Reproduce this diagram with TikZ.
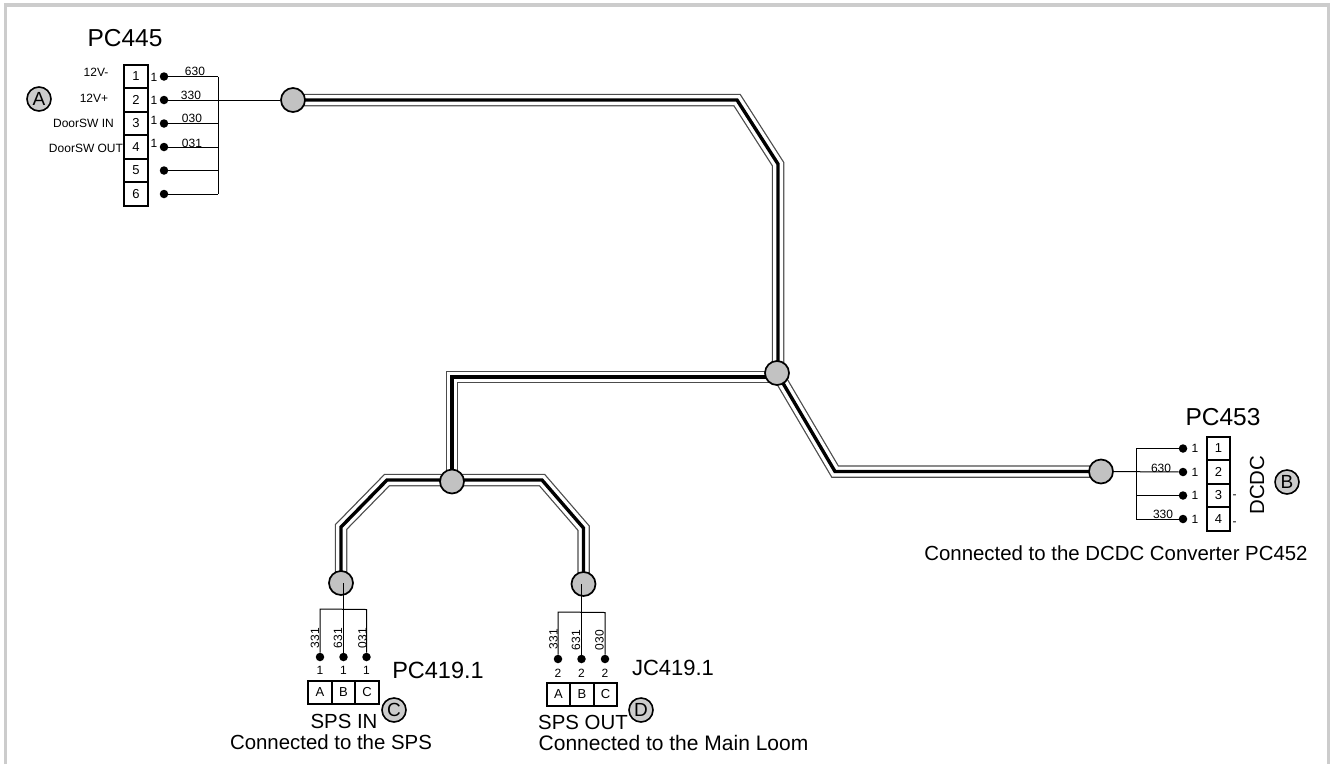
\documentclass[tikz,border=0pt]{standalone}
\usepackage{fontspec}
\setmainfont{Liberation Sans}
\newcommand{\fsz}[1]{\fontsize{#1}{#1}\selectfont}
\newcommand{\cablerun}[1]{%
  \draw[line width=12.5pt,draw=black!70,line join=miter] #1;
  \draw[line width=10pt,draw=white,line join=miter] #1;
  \draw[line width=3.4pt,draw=black,line join=miter] #1;}
\tikzset{
  x=1pt,y=-1pt,
  frameline/.style={draw=black!20,line width=3.2pt},
  junction/.style={circle,draw=black,fill=black!24,line width=1.7pt,minimum size=24pt,inner sep=0pt},
  tagmark/.style={circle,draw=black,fill=black!20,line width=1.6pt,minimum size=24pt,inner sep=0pt,font=\fsz{19}},
  pin/.style={circle,fill=black,minimum size=8.5pt,inner sep=0pt},
  cell/.style={rectangle,draw=black,line width=1.8pt,minimum width=23.5pt,minimum height=23.5pt,inner sep=0pt,font=\fsz{13}},
  wire/.style={draw=black,line width=1pt},
  title/.style={inner sep=0pt,font=\fsz{24.5}},
  caption/.style={inner sep=0pt,font=\fsz{20.4}},
  small/.style={inner sep=0pt,font=\fsz{12}},
  tiny/.style={inner sep=0pt,font=\fsz{12}},
}
\begin{document}
\begin{tikzpicture}
\useasboundingbox (0,0) rectangle (1335,764);
\draw[frameline] (5.5,764) -- (5.5,5) -- (1328.5,5) -- (1328.5,764);

% harness
\coordinate (ka) at (737,100);
\coordinate (kb) at (778,164);
\coordinate (kc) at (452,377);
\coordinate (kd) at (835,471.5);
\coordinate (ke) at (387,480);
\coordinate (kf) at (341,527);
\coordinate (kg) at (542,480);
\coordinate (kh) at (583.5,528);
\coordinate (ja) at (293,100);
\coordinate (jb) at (777,373);
\coordinate (jc) at (452,481.5);
\coordinate (jd) at (1101,471.5);
\coordinate (je) at (341,583);
\coordinate (jf) at (583.5,584);
\cablerun{(ja) -- (ka) -- (kb) -- (kb |- jb)}
\cablerun{(jb |- kc) -- (kc) -- (jc)}
\cablerun{(jb) -- (kd) -- (jd)}
\cablerun{(je) -- (kf) -- (ke) -- (kg) -- (kh) -- (jf)}

% PC445
\node[title] (t1) at (125,38.5) {PC445};
\foreach \i/\y in {1/76.5,2/100,3/123.5,4/147,5/170.5,6/194}{
  \node[cell] (a\i) at (136,\y) {\i};
  \node[pin] (ap\i) at (164,\y) {};
  \coordinate (ab\i) at (218,\y);
}
\draw[wire] (ab1) -- (ab6);
\foreach \i in {1,3,4,5,6}{\draw[wire] (ap\i) -- (ab\i);}
\node[tiny] (an1) at (154,77) {1};
\node[tiny] (an2) at (154,100) {1};
\node[tiny] (an3) at (154,120.5) {1};
\node[tiny] (an4) at (154,143.5) {1};
\node[small] (w1) at (195,71.5) {630};
\node[small] (w2) at (191,95.5) {330};
\node[small] (w3) at (192,118.5) {030};
\node[small] (w4) at (192,143.5) {031};
\node[small] (l1) at (96,72) {12V-};
\node[small] (l2) at (94,98.5) {12V+};
\node[small] (l3) at (83.5,123) {DoorSW IN};
\node[small] (l4) at (86,148) {DoorSW OUT};
\node[tagmark] (ta) at (39,99) {A};

% PC453
\node[title] (t2) at (1223,417) {PC453};
\foreach \i/\y in {1/448.5,2/472,3/495.5,4/519}{
  \node[cell] (b\i) at (1218.5,\y) {\i};
  \node[pin] (bp\i) at (1183,\y) {};
  \coordinate (bb\i) at (1136,\y);
  \node[tiny] (bn\i) at (1195,\y) {1};
}
\draw[wire] (bb1) -- (bb4);
\foreach \i in {1,3,4}{\draw[wire] (bp\i) -- (bb\i);}
\node[small] (w5) at (1161,468) {630};
\node[small] (w6) at (1163,514) {330};
\node[small] (m1) at (1234.5,497) {-};
\node[small] (m2) at (1234.5,523.5) {-};
\node[inner sep=0pt,font=\fsz{20.4},rotate=90] (dc) at (1257,485) {DCDC};
\node[tagmark] (tb) at (1287,482) {B};
\node[caption] (c1) at (1116,553) {Connected to the DCDC Converter PC452};

% PC419.1
\node[inner sep=0pt,font=\fsz{23.5}] (t3) at (438,670) {PC419.1};
\foreach \i/\l/\x/\px in {1/A/320/320,2/B/343.5/343.5,3/C/367/366.5}{
  \node[cell] (c\i) at (\x,692.5) {\l};
  \node[pin] (cp\i) at (\px,657) {};
  \node[tiny] (cn\i) at (\px,670.5) {1};
}
\coordinate (cb1) at (320,609);
\coordinate (cb3) at (366.5,609.5);
\draw[wire] (cp1) -- (cb1) -- (cb3) -- (cp3);
\node[small,rotate=90] (w7) at (315,638) {331};
\node[small,rotate=90] (w8) at (338,638) {631};
\node[small,rotate=90] (w9) at (362.5,638) {031};
\node[tagmark] (tc) at (394,710) {C};
\node[caption] (c2) at (344,721) {SPS IN};
\node[caption] (c3) at (331,742) {Connected to the SPS};

% JC419.1
\node[inner sep=0pt,font=\fsz{22}] (t4) at (673,668) {JC419.1};
\foreach \i/\l/\x/\px in {1/A/558.5/558,2/B/582/581.5,3/C/605.5/605}{
  \node[cell] (d\i) at (\x,694.5) {\l};
  \node[pin] (dp\i) at (\px,659) {};
  \node[tiny] (dn\i) at (\px,673) {2};
}
\coordinate (db1) at (558,612);
\coordinate (db3) at (605,612.5);
\draw[wire] (dp1) -- (db1) -- (db3) -- (dp3);
\node[small,rotate=90] (w10) at (553.5,639) {331};
\node[small,rotate=90] (w11) at (576,640) {631};
\node[small,rotate=90] (w12) at (599.5,640) {030};
\node[tagmark] (td) at (641,710) {D};
\node[caption] (c4) at (583,722) {SPS OUT};
\node[inner sep=0pt,font=\fsz{21}] (c5) at (673.5,743) {Connected to the Main Loom};

% junctions
\foreach \n in {ja,jb,jc,jd,je,jf}{\node[junction] (n\n) at (\n) {};}

% wires from the junctions to the pins
\draw[wire] (ap2) -- (nja);
\draw[wire] (njd) -- (bp2);
\draw[wire] (cp2 |- je) -- (cp2);
\draw[wire] (dp2 |- jf) -- (dp2);
\end{tikzpicture}
\end{document}
